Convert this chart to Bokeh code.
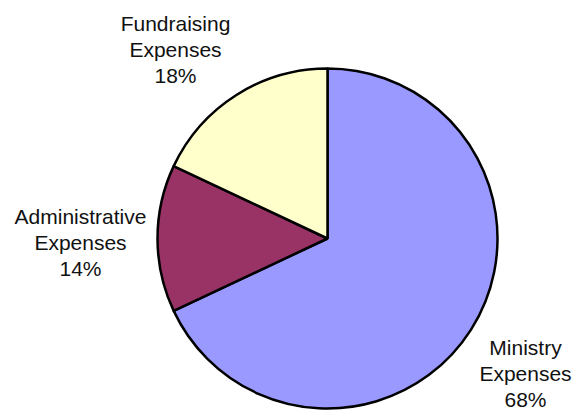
import numpy as np
from bokeh.plotting import figure
from bokeh.models import Range1d, ColumnDataSource
from bokeh.core.properties import value
from bokeh.embed import file_html
from bokeh.resources import INLINE

# data
categories = ["Ministry Expenses", "Administrative Expenses", "Fundraising Expenses"]
name_lines = [["Ministry", "Expenses"], ["Administrative", "Expenses"], ["Fundraising", "Expenses"]]
shares = [68, 14, 18]
colors = ["#9999FF", "#993366", "#FFFFCC"]

# layout (picture pixels; y measured from top)
W, H = 582, 410
cx, cy, r = 327, 238, 170
label_cx = [525, 80, 175]
label_base = [347, 216, 23]
line_gap = 26

p = figure(width=W, height=H, output_backend="svg", toolbar_location=None,
           x_range=Range1d(0, W), y_range=Range1d(0, H),
           min_border=0)
p.axis.visible = False
p.grid.visible = False
p.outline_line_color = None
p.background_fill_color = "white"

vals = np.array(shares, dtype=float)
frac = vals / vals.sum()
cum = np.concatenate([[0], np.cumsum(frac)])
start = np.radians(90 - 360 * cum[1:])
end = np.radians(90 - 360 * cum[:-1])

src = ColumnDataSource(dict(start=start, end=end, color=colors, name=categories))
p.wedge(x=cx, y=H - cy, radius=r, start_angle="start", end_angle="end",
        fill_color="color", line_color="black", line_width=2.5, source=src)

tx, ty, tt = [], [], []
for i in range(len(categories)):
    lines = name_lines[i] + [f"{shares[i]}%"]
    for j, t in enumerate(lines):
        tx.append(label_cx[i])
        ty.append(H - (label_base[i] + j * line_gap))
        tt.append(t)
p.text(x=tx, y=ty, text=tt, text_font=value("Liberation Sans"), text_font_size="21px",
       text_align="center", text_baseline="alphabetic", text_color="#111111")

open("out.html", "w").write(file_html(p, INLINE))
